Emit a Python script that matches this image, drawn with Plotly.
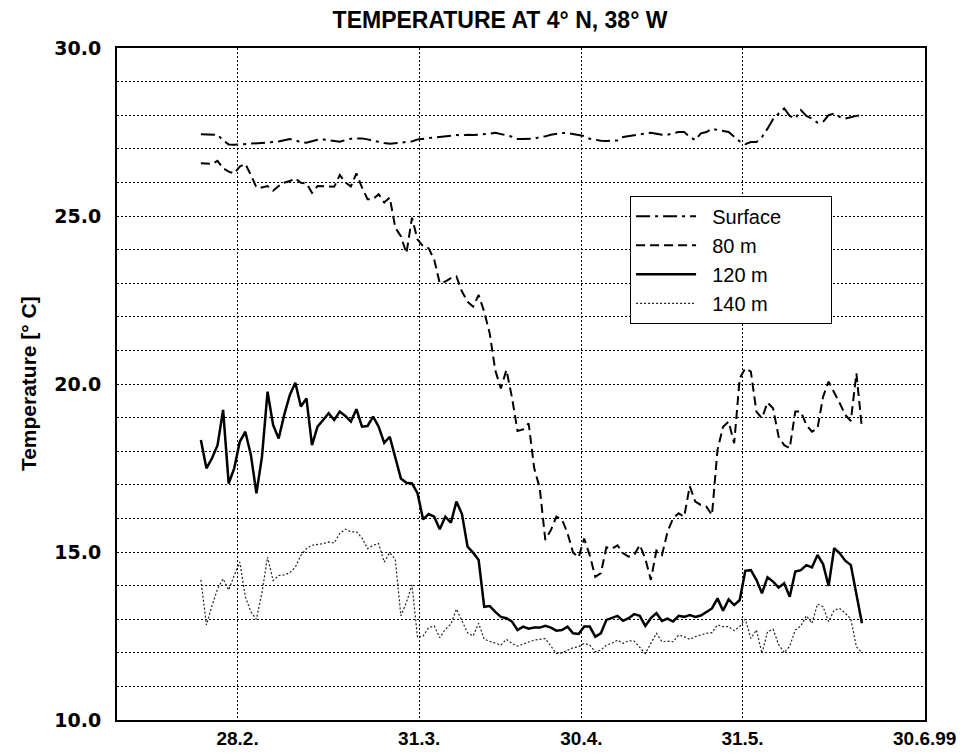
import plotly.graph_objects as go

# daily samples, day 0 = first measurement
days = list(range(120))

surface = [27.43, 27.43, 27.43, 27.42, 27.25, 27.13, 27.12, 27.13, 27.13, 27.14,
           27.15, 27.16, 27.18, 27.20, 27.22, 27.26, 27.29, 27.26, 27.19, 27.18,
           27.23, 27.27, 27.28, 27.26, 27.22, 27.21, 27.26, 27.30, 27.31, 27.31,
           27.28, 27.24, 27.20, 27.17, 27.15, 27.17, 27.20, 27.20, 27.22, 27.28,
           27.30, 27.32, 27.35, 27.36, 27.38, 27.40, 27.41, 27.40, 27.42, 27.41,
           27.42, 27.43, 27.45, 27.48, 27.45, 27.40, 27.36, 27.29, 27.29, 27.29,
           27.30, 27.35, 27.37, 27.42, 27.45, 27.47, 27.47, 27.44, 27.43, 27.38,
           27.30, 27.26, 27.24, 27.23, 27.23, 27.25, 27.35, 27.38, 27.40, 27.44,
           27.47, 27.48, 27.45, 27.42, 27.42, 27.45, 27.50, 27.50, 27.35, 27.26,
           27.46, 27.50, 27.60, 27.56, 27.52, 27.50, 27.36, 27.22, 27.14, 27.20,
           27.20, 27.35, 27.60, 27.88, 28.05, 28.20, 27.98, 27.90, 28.15, 27.98,
           27.90, 27.78, 27.80, 28.00, 28.05, 27.95, 27.90, 27.95, 27.98, 28.00]

t80 = [26.57, 26.57, 26.55, 26.64, 26.42, 26.32, 26.27, 26.47, 26.55, 26.22,
       25.85, 25.85, 25.89, 25.75, 25.89, 25.99, 26.04, 26.12, 25.99, 25.97,
       25.69, 25.89, 25.89, 25.89, 25.87, 26.22, 26.00, 25.88, 26.27, 25.85,
       25.50, 25.50, 25.65, 25.40, 25.55, 24.65, 24.40, 23.89, 24.95, 24.30,
       24.10, 24.04, 23.70, 23.00, 23.05, 23.15, 23.20, 22.75, 22.45, 22.30,
       22.65, 22.15, 21.50, 20.40, 19.87, 20.42, 19.60, 18.60, 18.65, 18.83,
       17.50, 16.90, 15.36, 15.65, 16.05, 15.97, 15.56, 14.98, 14.84, 15.40,
       14.90, 14.26, 14.37, 15.14, 15.10, 15.20, 14.96, 14.86, 14.91, 15.21,
       14.80, 14.17, 15.04, 14.91, 15.60, 16.00, 16.15, 16.05, 16.96, 16.50,
       16.40, 16.35, 16.10, 18.04, 18.73, 18.88, 18.24, 20.17, 20.47, 20.37,
       19.18, 18.98, 19.45, 19.28, 18.43, 18.18, 18.09, 19.18, 19.18, 18.78,
       18.58, 18.68, 19.62, 20.07, 19.77, 19.43, 19.08, 18.90, 20.32, 18.68]

t120 = [18.33, 17.49, 17.79, 18.18, 19.23, 17.04, 17.49, 18.28, 18.58, 17.89,
        16.75, 17.84, 19.77, 18.78, 18.38, 19.08, 19.67, 20.04, 19.33, 19.57,
        18.18, 18.73, 18.93, 19.13, 18.93, 19.18, 19.05, 18.88, 19.25, 18.73,
        18.75, 19.03, 18.73, 18.25, 18.43, 17.84, 17.19, 17.06, 17.04, 16.75,
        15.97, 16.13, 16.05, 15.68, 16.05, 15.87, 16.50, 16.13, 15.16, 14.98,
        14.76, 13.37, 13.39, 13.22, 13.07, 13.03, 12.93, 12.68, 12.78, 12.72,
        12.75, 12.75, 12.80, 12.75, 12.66, 12.68, 12.78, 12.58, 12.56, 12.78,
        12.78, 12.48, 12.58, 12.98, 13.03, 13.10, 12.95, 13.03, 13.15, 13.10,
        12.80, 13.03, 13.18, 12.95, 13.02, 12.93, 13.10, 13.07, 13.12, 13.07,
        13.11, 13.22, 13.32, 13.62, 13.25, 13.59, 13.42, 13.57, 14.44, 14.46,
        14.17, 13.77, 14.25, 14.12, 13.94, 14.07, 13.67, 14.42, 14.46, 14.61,
        14.54, 14.91, 14.64, 13.99, 15.11, 14.96, 14.74, 14.61, 13.77, 12.88]

t140 = [14.17, 12.83, 13.40, 13.90, 14.20, 13.87, 14.30, 14.70, 13.67, 13.22,
        13.00, 13.80, 14.85, 14.15, 14.30, 14.32, 14.38, 14.55, 14.90, 15.10,
        15.20, 15.22, 15.25, 15.30, 15.27, 15.55, 15.68, 15.60, 15.60, 15.42,
        15.10, 15.20, 15.25, 14.70, 14.98, 14.78, 13.10, 13.50, 14.02, 12.45,
        12.50, 12.75, 12.80, 12.45, 12.70, 12.85, 13.30, 12.95, 12.60, 12.50,
        12.88, 12.40, 12.35, 12.30, 12.23, 12.40, 12.28, 12.20, 12.25, 12.32,
        12.38, 12.40, 12.42, 12.20, 11.98, 12.00, 12.08, 12.15, 12.18, 12.28,
        12.23, 12.03, 12.08, 12.23, 12.28, 12.38, 12.28, 12.36, 12.35, 12.18,
        11.98, 12.28, 12.58, 12.33, 12.35, 12.33, 12.53, 12.48, 12.40, 12.48,
        12.53, 12.58, 12.60, 12.83, 12.78, 12.78, 12.66, 12.78, 13.00, 12.43,
        12.68, 11.98, 12.63, 12.70, 12.25, 12.00, 12.20, 12.68, 12.80, 13.10,
        12.88, 13.45, 13.37, 12.93, 13.27, 13.32, 13.18, 13.00, 12.18, 12.00]

tick_days = [6.6, 39.3, 68.5, 97.5, 130.3]
tick_text = ['28.2.', '31.3.', '30.4.', '31.5.', '30.6.99']

series_names = ['Surface', '80 m', '120 m', '140 m']

bold = 'Liberation Sans, Arial'
nb = '\u00a0'


def legend_name(s):
    # nbsp padding moves the text right and widens the box like the original
    return nb * 2 + s + (nb * 8 if s == 'Surface' else '')


fig = go.Figure()

fig.add_trace(go.Scatter(x=days, y=surface, mode='lines', name=legend_name(series_names[0]),
                         line=dict(color='black', width=2, dash='14px,5px,3px,5px')))
fig.add_trace(go.Scatter(x=days, y=t80, mode='lines', name=legend_name(series_names[1]),
                         line=dict(color='black', width=2, dash='9px,5px')))
fig.add_trace(go.Scatter(x=days, y=t120, mode='lines', name=legend_name(series_names[2]),
                         line=dict(color='black', width=2.5)))
fig.add_trace(go.Scatter(x=days, y=t140, mode='lines', name=legend_name(series_names[3]),
                         line=dict(color='#222222', width=1.2, dash='2px,2px')))

# page body has an 8px margin, so the figure is 8px smaller than the window
fig.update_layout(
    width=961, height=746,
    margin=dict(l=109, r=44, t=40, b=34),
    paper_bgcolor='white', plot_bgcolor='white',
    title=dict(text='TEMPERATURE AT 4° N, 38° W', x=0.512, xref='container', xanchor='center',
               y=0.984, yref='container', yanchor='middle',
               font=dict(family=bold, size=23, color='black', weight='bold')),
    legend=dict(x=0.635, y=0.78, xanchor='left', yanchor='top',
                bgcolor='white', bordercolor='black', borderwidth=1,
                font=dict(family='Liberation Sans, Arial', size=20, color='black'),
                itemwidth=60, tracegroupgap=0),
    annotations=[dict(text='Temperature [° C]', xref='paper', yref='paper',
                      x=-0.11, y=0.5, xanchor='center', yanchor='middle',
                      textangle=-90, showarrow=False,
                      font=dict(family=bold, size=21, color='black', weight='bold'))],
)

fig.update_xaxes(range=[-15.1, 130.35], tickvals=tick_days, ticktext=tick_text,
                 showgrid=True, gridcolor='black', gridwidth=1, griddash='2px,2px',
                 zeroline=False, showline=True, mirror=True, linecolor='black', linewidth=2,
                 ticks='', ticklabelstandoff=0, automargin=False,
                 tickfont=dict(family=bold, size=19, color='black', weight='bold'))

fig.update_yaxes(range=[10, 30], dtick=5, tick0=10, tickformat='.1f',
                 showgrid=True, gridcolor='black', gridwidth=1, griddash='2px,2px',
                 minor=dict(dtick=1, showgrid=True, gridcolor='black', gridwidth=1, griddash='2px,2px'),
                 zeroline=False, showline=True, mirror=True, linecolor='black', linewidth=2,
                 ticks='', ticklabelstandoff=10, automargin=False,
                 tickfont=dict(family='DejaVu Sans', size=19, color='black', weight='bold'))

fig.write_html("out.html")
